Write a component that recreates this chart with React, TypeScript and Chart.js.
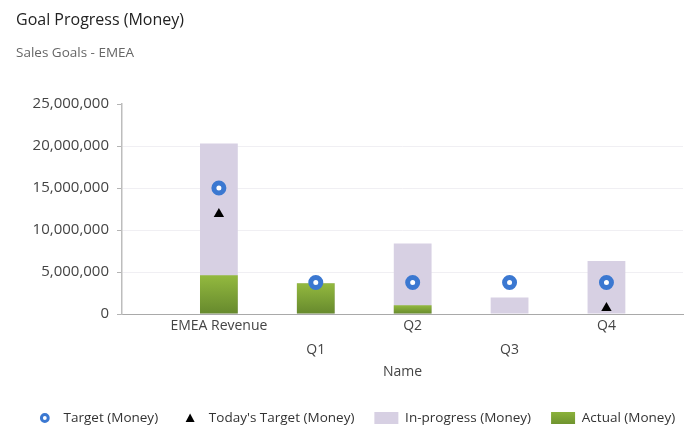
import React, { useEffect, useRef } from 'react';
import { Chart, registerables } from 'chart.js';

Chart.register(...registerables);

const categories = ['EMEA Revenue', 'Q1', 'Q2', 'Q3', 'Q4'];
const targetValues = [15000000, 3750000, 3750000, 3750000, 3750000];
const todaysTargetValues: (number | null)[] = [11900000, null, null, null, 700000];
const inProgressValues = [20300000, 3650000, 8400000, 1950000, 6300000];
const actualValues = [4600000, 3650000, 1050000, 0, 0];
const yTickValues = [0, 5000000, 10000000, 15000000, 20000000, 25000000];
const seriesNames = ['Target (Money)', "Today's Target (Money)", 'In-progress (Money)', 'Actual (Money)'];
const chartTitle = 'Goal Progress (Money)';
const chartSubtitle = 'Sales Goals - EMEA';

const FONT = "'Open Sans', 'DejaVu Sans', sans-serif";
const BLUE = '#3b78d1';
const LAVENDER = '#d7d0e3';
const GREEN_TOP = '#93b93f';
const GREEN_BOTTOM = '#66892d';

type IconKind = 'ring' | 'triangle' | 'lavender' | 'green';
const legendIcons: IconKind[] = ['ring', 'triangle', 'lavender', 'green'];

const headerPlugin = {
  id: 'header',
  afterDraw(chart: any) {
    const ctx = chart.ctx as CanvasRenderingContext2D;
    ctx.save();
    ctx.textAlign = 'left';
    ctx.textBaseline = 'middle';
    ctx.fillStyle = '#222222';
    ctx.font = `normal 16px ${FONT}`;
    ctx.fillText(chartTitle, 16, 20);
    ctx.fillStyle = '#666666';
    ctx.font = `normal 13.5px ${FONT}`;
    ctx.fillText(chartSubtitle, 16, 53);
    ctx.restore();
  },
};

const legendPlugin = {
  id: 'bottomLegend',
  afterDraw(chart: any) {
    const ctx = chart.ctx as CanvasRenderingContext2D;
    const boxW = 24;
    const gap = 6.75;
    const itemPad = 20;
    const cy = 418;
    ctx.save();
    ctx.font = `normal 13.5px ${FONT}`;
    ctx.textBaseline = 'middle';
    ctx.textAlign = 'left';
    const widths = seriesNames.map((n) => boxW + gap + ctx.measureText(n).width);
    const total = widths.reduce((a, b) => a + b, 0) + itemPad * (widths.length - 1);
    let x = 354 - total / 2;
    seriesNames.forEach((name, i) => {
      const kind = legendIcons[i];
      const cx = x + boxW / 2;
      if (kind === 'ring') {
        ctx.beginPath();
        ctx.arc(cx, cy, 3.4, 0, Math.PI * 2);
        ctx.lineWidth = 3;
        ctx.strokeStyle = BLUE;
        ctx.stroke();
      } else if (kind === 'triangle') {
        ctx.beginPath();
        ctx.moveTo(cx, cy - 4.5);
        ctx.lineTo(cx + 4.5, cy + 4);
        ctx.lineTo(cx - 4.5, cy + 4);
        ctx.closePath();
        ctx.fillStyle = '#000000';
        ctx.fill();
      } else if (kind === 'lavender') {
        ctx.fillStyle = LAVENDER;
        ctx.fillRect(x, cy - 6, boxW, 12);
      } else {
        const g = ctx.createLinearGradient(0, cy - 6, 0, cy + 6);
        g.addColorStop(0, '#8bb23b');
        g.addColorStop(1, '#6f942f');
        ctx.fillStyle = g;
        ctx.fillRect(x, cy - 6, boxW, 12);
      }
      ctx.fillStyle = '#333333';
      ctx.fillText(name, x + boxW + gap, cy);
      x += widths[i] + itemPad;
    });
    ctx.restore();
  },
};

export default function App() {
  const ref = useRef<HTMLCanvasElement | null>(null);

  useEffect(() => {
    if (!ref.current) return;
    const toXY = (arr: (number | null)[]) => arr.map((v, i) => ({ x: i, y: v }));

    const chart = new Chart(ref.current, {
      type: 'bar',
      data: {
        datasets: [
          {
            type: 'line',
            label: seriesNames[0],
            data: toXY(targetValues),
            showLine: false,
            pointStyle: 'circle',
            pointRadius: 5,
            pointBorderWidth: 5,
            pointBorderColor: BLUE,
            pointBackgroundColor: '#ffffff',
            order: 0,
          } as any,
          {
            type: 'line',
            label: seriesNames[1],
            data: toXY(todaysTargetValues),
            showLine: false,
            pointStyle: 'triangle',
            pointRadius: 6,
            pointBorderWidth: 0,
            pointBorderColor: '#000',
            pointBackgroundColor: '#000',
            order: 1,
          } as any,
          {
            type: 'bar',
            label: seriesNames[2],
            data: toXY(inProgressValues),
            backgroundColor: LAVENDER,
            grouped: false,
            barPercentage: 0.39,
            categoryPercentage: 1,
            order: 3,
          } as any,
          {
            type: 'bar',
            label: seriesNames[3],
            data: toXY(actualValues),
            backgroundColor: (ctx: any) => {
              const chartRef = ctx.chart;
              const ys = chartRef.scales && chartRef.scales.y;
              if (!ys || ctx.raw == null) return GREEN_BOTTOM;
              const top = ys.getPixelForValue(ctx.raw.y);
              const bottom = ys.getPixelForValue(0);
              if (!isFinite(top) || !isFinite(bottom) || bottom - top < 1) return GREEN_BOTTOM;
              const g = chartRef.ctx.createLinearGradient(0, top, 0, bottom);
              g.addColorStop(0, GREEN_TOP);
              g.addColorStop(1, GREEN_BOTTOM);
              return g;
            },
            grouped: false,
            barPercentage: 0.39,
            categoryPercentage: 1,
            order: 2,
          } as any,
        ],
      },
      plugins: [headerPlugin, legendPlugin],
      options: {
        animation: false,
        responsive: true,
        maintainAspectRatio: false,
        layout: { padding: { left: 16, right: 12, top: 104, bottom: 33.75 } },
        plugins: {
          tooltip: { enabled: false },
          legend: { display: false },
          title: { display: false },
        },
        scales: {
          x: {
            type: 'linear',
            min: -1,
            max: 4.79,
            offset: false,
            grid: { display: false, drawTicks: false },
            border: { display: true, color: '#a9a9a9', width: 1 },
            afterFit: (scale: any) => {
              scale.height = 77.25;
            },
            ticks: {
              stepSize: 1,
              includeBounds: false,
              autoSkip: false,
              maxRotation: 0,
              minRotation: 0,
              padding: 0,
              color: '#444444',
              font: { family: FONT, size: 14, lineHeight: '24px' as any },
              callback: (value: any) => {
                const v = Number(value);
                if (!Number.isInteger(v) || v < 0 || v >= categories.length) return '';
                return v % 2 === 1 ? ['', categories[v]] : categories[v];
              },
            },
            title: {
              display: true,
              text: 'Name',
              color: '#444444',
              font: { family: FONT, size: 14, lineHeight: 1.2 },
              padding: { top: 2, bottom: 10.85 },
            },
          },
          y: {
            type: 'linear',
            min: 0,
            max: 25000000,
            afterBuildTicks: (scale: any) => {
              scale.ticks = yTickValues.map((v) => ({ value: v }));
            },
            afterFit: (scale: any) => {
              scale.width = 106;
            },
            grid: {
              color: (ctx: any) => (ctx.tick && (ctx.tick.value === 0 || ctx.tick.value === 25000000) ? 'rgba(0,0,0,0)' : '#f0eff3'),
              tickColor: '#b4b4b4',
              tickLength: 5,
              drawTicks: true,
            },
            border: { display: true, color: '#bdbdbd', width: 1.5 },
            ticks: {
              padding: 8,
              color: '#444444',
              font: { family: FONT, size: 15 },
              callback: (value: any) => Number(value).toLocaleString('en-US'),
            },
          },
        },
      } as any,
    });

    return () => chart.destroy();
  }, []);

  return (
    <div style={{ position: 'absolute', left: 0, top: 0, width: 695, height: 425, background: '#ffffff' }}>
      <canvas ref={ref} />
    </div>
  );
}
